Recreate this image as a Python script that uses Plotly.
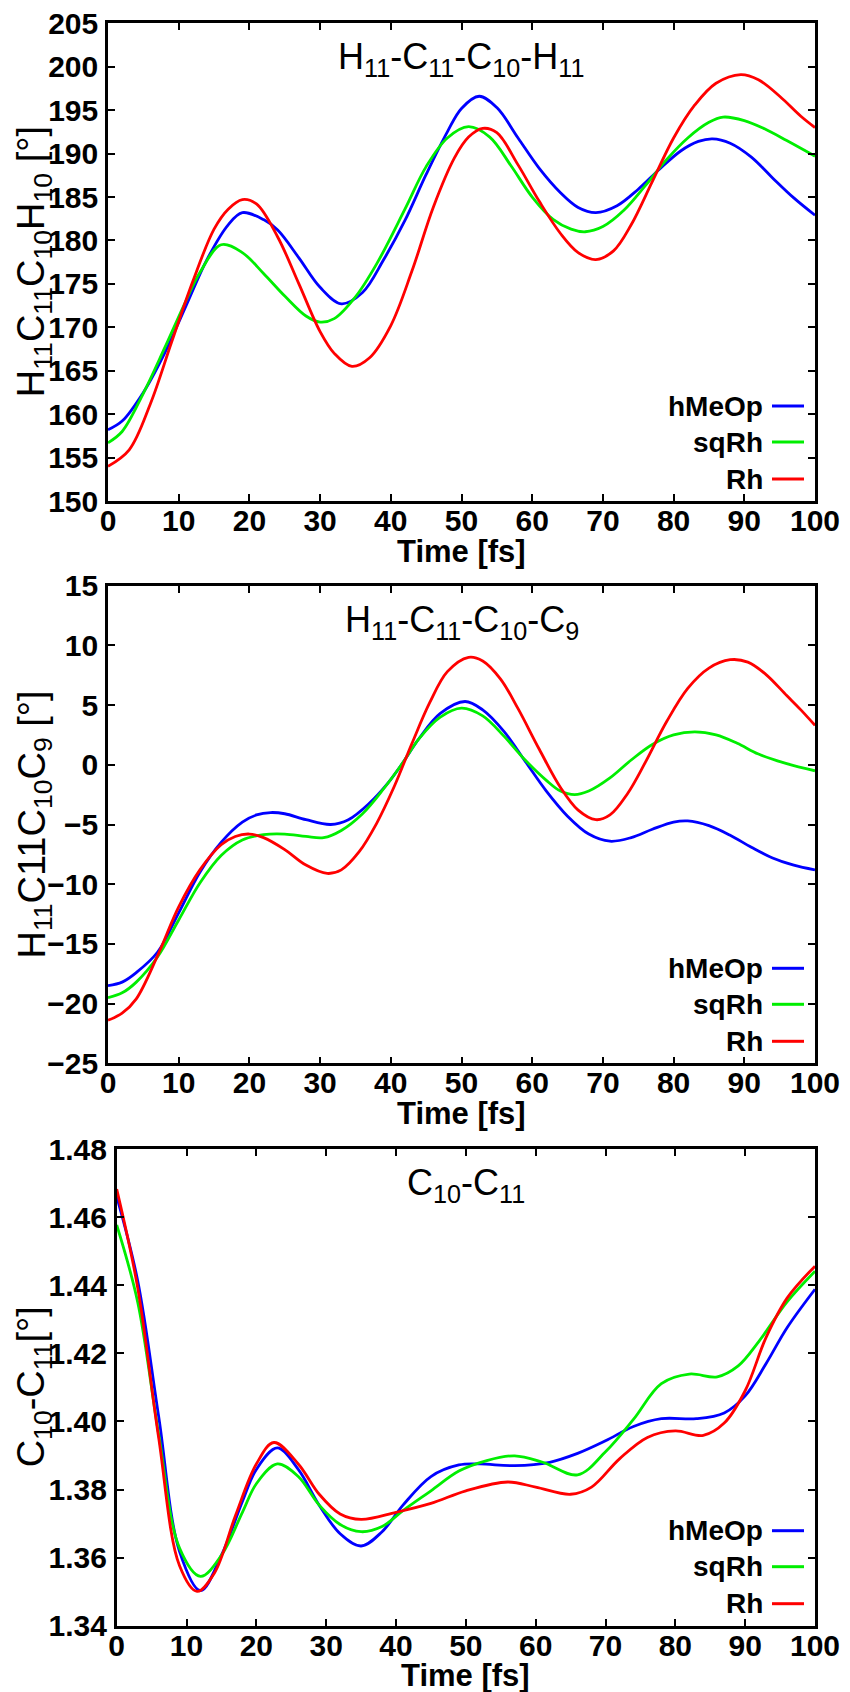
import plotly.graph_objects as go

W, H = 850, 1692

# ---------------- data ----------------
# Panel 1: H11-C11-C10-H11 dihedral
t1_blue = [0, 2, 5, 8, 11, 14, 17, 19, 22, 24, 27, 30, 33, 36, 39, 42, 45, 48, 50, 52.5, 55, 58, 61, 64, 66.5, 69, 72, 75, 78, 81, 83.5, 85.5, 88, 91, 94, 97, 100]
v1_blue = [158.2, 159.2, 162.5, 167, 172.4, 177.8, 181.8, 183.2, 182.4, 181.2, 178, 174.6, 172.7, 174, 177.8, 182.3, 187.6, 192.5, 195.2, 196.6, 195.3, 191.8, 188.3, 185.5, 183.8, 183.2, 184, 185.9, 188.2, 190.3, 191.4, 191.7, 191.2, 189.6, 187.2, 184.9, 182.9]
t1_green = [0, 2, 5, 8, 11, 13, 16, 19, 22, 25, 28, 30, 32, 35, 38, 42, 45, 48, 51, 54, 57, 60, 63, 65.5, 67.5, 70, 73, 76, 79, 82, 85, 87, 90, 93, 96, 100]
v1_green = [156.7, 158, 162.4, 167.6, 173, 176.3, 179.5, 178.6, 176.2, 173.6, 171.3, 170.6, 171, 173.5, 177.3, 183.6, 188.5, 191.8, 193.1, 191.9, 188.6, 185, 182.4, 181.3, 181.0, 181.6, 183.5, 186.3, 189.3, 191.8, 193.6, 194.2, 193.8, 192.8, 191.5, 189.7]
t1_red = [0, 3, 6, 9, 12, 15, 17, 19, 21, 24, 27, 30, 32, 34.5, 37, 40, 43, 46, 49, 51, 53, 55, 58, 61, 64, 66.5, 69, 71.5, 74, 77, 80, 83, 86, 89.5, 92, 95, 98, 100]
v1_red = [154.0, 155.9, 161.2, 168.3, 175.3, 181.3, 183.6, 184.7, 184.2, 180.4, 175, 169.5, 167, 165.5, 166.5, 170.2, 176.5, 183.8, 189.5, 191.9, 192.9, 192.4, 188.7, 184.5, 180.8, 178.6, 177.8, 178.8, 181.8, 186.8, 191.8, 195.6, 198.1, 199.1, 198.5, 196.6, 194.3, 193.0]

# Panel 2: H11-C11-C10-C9 dihedral
t2_blue = [0, 2, 4, 7, 10, 13, 16, 19, 21, 23, 25, 28, 31.5, 34, 37, 39.5, 41.5, 44, 47, 50.5, 53, 56, 59, 62, 65, 68, 71, 74, 77, 80, 82, 85, 88, 91, 94, 97, 100]
v2_blue = [-18.5, -18.2, -17.4, -15.7, -12.4, -9, -6.5, -4.8, -4.2, -4.0, -4.1, -4.6, -5.0, -4.6, -3.2, -1.6, 0, 2.2, 4.3, 5.3, 4.6, 2.8, 0.3, -2.2, -4.3, -5.8, -6.4, -6.1, -5.4, -4.8, -4.7, -5.1, -5.9, -6.9, -7.8, -8.4, -8.8]
t2_green = [0, 2, 4, 7, 10, 13, 16, 19, 22, 25, 28, 30.5, 33, 36, 39, 41.5, 44, 47, 50, 53, 56, 59, 62, 64, 66, 68, 71, 74, 77, 80, 83, 86, 89, 92, 96, 100]
v2_green = [-19.5, -19.1, -18.2, -16.1, -13, -9.9, -7.6, -6.3, -5.85, -5.8, -6, -6.1, -5.5, -4.1, -2, 0, 2.2, 4, 4.75, 4.1, 2.4, 0.4, -1.3, -2.2, -2.5, -2.2, -1.1, 0.4, 1.7, 2.5, 2.75, 2.5, 1.8, 0.9, 0.1, -0.5]
t2_red = [0, 2, 4, 7, 10, 13, 16, 18, 20, 22, 25, 28, 31, 33, 35.5, 38, 40.5, 43, 45.5, 48, 51, 53, 55.5, 58, 61, 64, 66.5, 69, 71, 73.5, 76, 79, 82, 85, 88, 90.5, 93, 96, 98, 100]
v2_red = [-21.4, -20.8, -19.6, -16, -11.9, -8.8, -6.7, -6, -5.8, -6.1, -7.1, -8.4, -9.1, -8.8, -7.3, -4.9, -1.8, 1.8, 5.2, 7.8, 9.0, 8.7, 7.2, 4.7, 1.3, -1.9, -3.8, -4.6, -4.2, -2.4, 0.2, 3.6, 6.4, 8.1, 8.8, 8.6, 7.6, 5.8, 4.6, 3.3]

# Panel 3: C10-C11 bond length
t3_blue = [0, 3, 6, 9, 12, 15, 18, 20, 23, 26, 29, 32, 35, 38, 41, 45, 49, 52, 57, 62, 66, 70, 74, 78, 83, 87, 90, 93, 96, 100]
v3_blue = [1.466, 1.4414, 1.4016, 1.3618, 1.3503, 1.3607, 1.3765, 1.3859, 1.3922, 1.3859, 1.3754, 1.367, 1.3634, 1.3676, 1.3754, 1.3838, 1.3872, 1.3875, 1.387, 1.388, 1.3906, 1.3943, 1.3985, 1.4008, 1.4008, 1.4025, 1.4075, 1.417, 1.4275, 1.4388]
t3_green = [0, 3, 6, 9, 12, 15, 18, 20, 23, 26, 29, 32, 35, 38, 41, 45, 49, 53, 57, 61, 66, 70, 74, 78, 82, 86, 89, 92, 96, 100]
v3_green = [1.4577, 1.4351, 1.3964, 1.3628, 1.3545, 1.3607, 1.3733, 1.3817, 1.3875, 1.3838, 1.3754, 1.3697, 1.3676, 1.3691, 1.3738, 1.3796, 1.3854, 1.3885, 1.3899, 1.388, 1.3843, 1.3911, 1.4006, 1.4111, 1.4139, 1.4131, 1.4163, 1.4236, 1.4351, 1.4441]
t3_red = [0, 3, 6, 9, 11.5, 14, 17, 20, 22.5, 26, 29, 32, 35, 40, 45, 50, 56, 60, 65, 68, 72, 76, 80, 84, 87, 90, 93, 96, 100]
v3_red = [1.4682, 1.4393, 1.3953, 1.3576, 1.3501, 1.3555, 1.3723, 1.3875, 1.3938, 1.3875, 1.3786, 1.3728, 1.3712, 1.3733, 1.3759, 1.3796, 1.3822, 1.3807, 1.3786, 1.3807, 1.389, 1.3953, 1.3972, 1.3959, 1.3995, 1.409, 1.4247, 1.4362, 1.4456]

series_names = ["hMeOp", "sqRh", "Rh"]
series_colors = ["#0000ff", "#00ee00", "#ff0000"]

panel_titles = ["H<sub>11</sub>-C<sub>11</sub>-C<sub>10</sub>-H<sub>11</sub>",
                "H<sub>11</sub>-C<sub>11</sub>-C<sub>10</sub>-C<sub>9</sub>",
                "C<sub>10</sub>-C<sub>11</sub>"]
y_titles = ["H<sub>11</sub>C<sub>11</sub>C<sub>10</sub>H<sub>10</sub> [°]",
            "H<sub>11</sub>C11C<sub>10</sub>C<sub>9</sub> [°]",
            "C<sub>10</sub>-C<sub>11</sub>[°]"]
x_title = "Time [fs]"
y_ranges = [[150, 205], [-25, 15], [1.34, 1.48]]
y_dticks = [5, 5, 0.02]
y_formats = ["d", "d", ".2f"]

panels = [
    [(t1_blue, v1_blue), (t1_green, v1_green), (t1_red, v1_red)],
    [(t2_blue, v2_blue), (t2_green, v2_green), (t2_red, v2_red)],
    [(t3_blue, v3_blue), (t3_green, v3_green), (t3_red, v3_red)],
]

# ---------------- layout geometry (pixels) ----------------
boxes = [  # left, right, top, bottom
    (108, 815, 23.3, 501),
    (108, 815, 585.7, 1063.3),
    (116.7, 815, 1149, 1625.7),
]


def px(x):
    return x / W


def py(y):
    return 1 - y / H


FONT = "Liberation Sans"
fig = go.Figure()
annotations = []
shapes = []

for i, (series, box) in enumerate(zip(panels, boxes)):
    l, r, t, b = box
    sfx = "" if i == 0 else str(i + 1)
    xa, ya = "x" + sfx, "y" + sfx
    for (tt, vv), name, col in zip(series, series_names, series_colors):
        fig.add_trace(go.Scatter(x=tt, y=vv, mode="lines", name=name,
                                 line=dict(color=col, width=2.8, shape="spline", smoothing=1.0),
                                 xaxis=xa, yaxis=ya, showlegend=False))
    axis_common = dict(showline=True, linecolor="black", linewidth=2.6, mirror="ticks",
                       ticks="inside", ticklen=7, tickwidth=2.2, tickcolor="black",
                       showgrid=False, zeroline=False,
                       tickfont=dict(family=FONT, size=30, color="black", weight="bold"))
    fig.layout["xaxis" + sfx] = dict(domain=[px(l), px(r)], range=[0, 100], dtick=10, tick0=0,
                                     anchor=ya, ticklabelstandoff=-9, **axis_common)
    fig.layout["yaxis" + sfx] = dict(domain=[py(b), py(t)], range=y_ranges[i], dtick=y_dticks[i],
                                     tickformat=y_formats[i], anchor=xa, ticklabelstandoff=1,
                                     **axis_common)
    # panel title
    annotations.append(dict(text=panel_titles[i], x=px((l + r) / 2), y=py(t + 36),
                            xref="paper", yref="paper", xanchor="center", yanchor="middle",
                            showarrow=False, font=dict(family=FONT, size=36, color="black")))
    # y title
    annotations.append(dict(text=y_titles[i], x=px(34), y=py((t + b) / 2),
                            xref="paper", yref="paper", xanchor="center", yanchor="middle",
                            textangle=-90, showarrow=False,
                            font=dict(family=FONT, size=38, color="black")))
    # x title
    annotations.append(dict(text="<b>" + x_title + "</b>", x=px((l + r) / 2), y=py(b + 50),
                            xref="paper", yref="paper", xanchor="center", yanchor="middle",
                            showarrow=False, font=dict(family=FONT, size=31, color="black")))
    # legend (text left of sample line)
    for k, (name, col) in enumerate(zip(series_names, series_colors)):
        yy = b - [95, 59, 22][k]
        annotations.append(dict(text="<b>" + name + "</b>", x=px(765), y=py(yy),
                                xref="paper", yref="paper", xanchor="right", yanchor="middle",
                                showarrow=False, font=dict(family=FONT, size=28, color="black")))
        shapes.append(dict(type="line", xref="paper", yref="paper",
                           x0=px(772), x1=px(804), y0=py(yy), y1=py(yy),
                           line=dict(color=col, width=3)))

fig.update_layout(width=W, height=H, margin=dict(l=0, r=0, t=0, b=0, autoexpand=False),
                  paper_bgcolor="white", plot_bgcolor="white",
                  annotations=annotations, shapes=shapes, showlegend=False)

fig.write_html("out.html")
